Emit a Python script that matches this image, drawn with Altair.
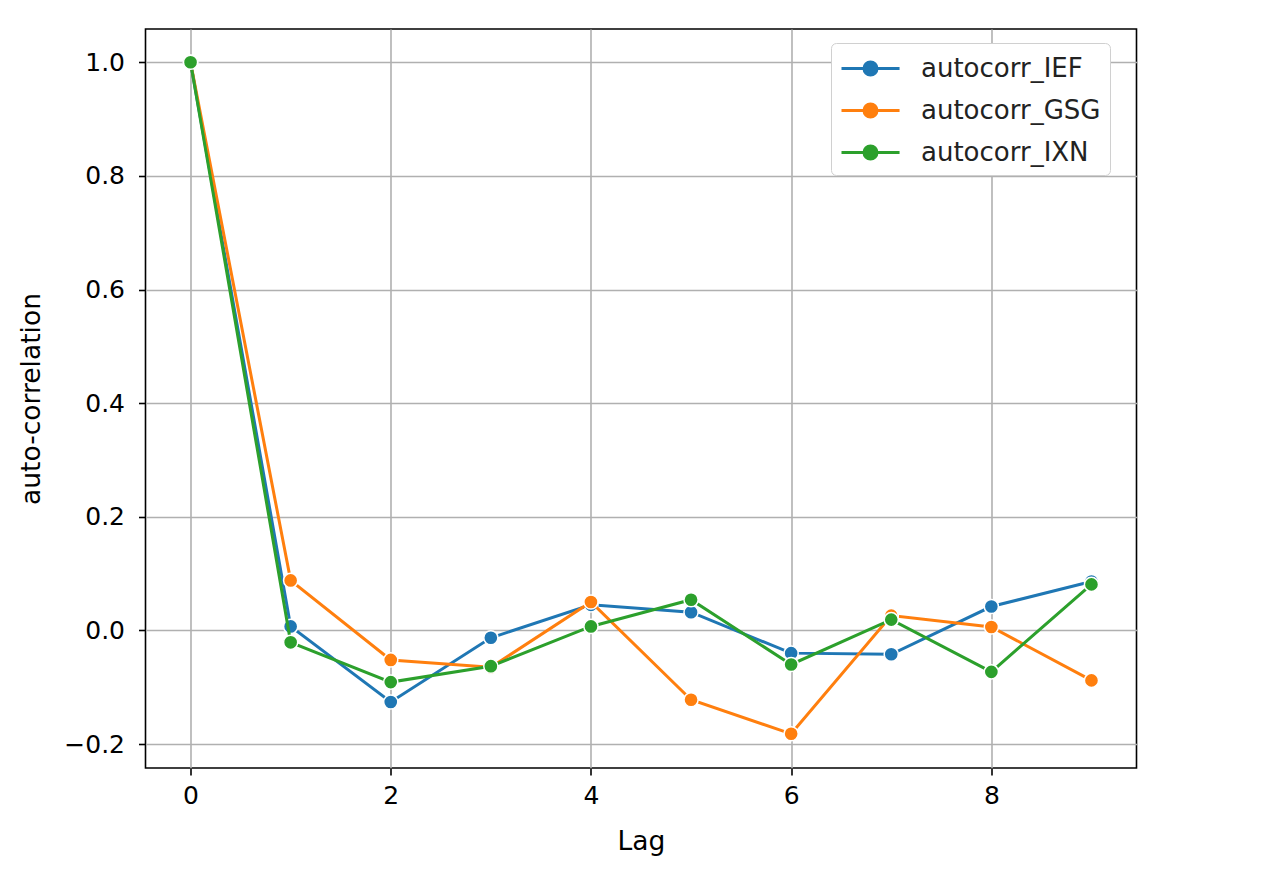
import altair as alt
import pandas as pd

lags = [0, 1, 2, 3, 4, 5, 6, 7, 8, 9]
series_names = ["autocorr_IEF", "autocorr_GSG", "autocorr_IXN"]
ief = [1.0, 0.007, -0.126, -0.013, 0.045, 0.032, -0.040, -0.042, 0.042, 0.086]
gsg = [1.0, 0.088, -0.052, -0.065, 0.050, -0.122, -0.182, 0.026, 0.006, -0.088]
ixn = [1.0, -0.021, -0.091, -0.063, 0.007, 0.054, -0.060, 0.019, -0.073, 0.081]
colors = ["#1f77b4", "#ff7f0e", "#2ca02c"]

rows = []
for name, vals in zip(series_names, [ief, gsg, ixn]):
    for lag, v in zip(lags, vals):
        rows.append({"Lag": lag, "value": v, "series": name})
df = pd.DataFrame(rows)

FONT = "DejaVu Sans"
x_enc = alt.X("Lag:Q", title="Lag",
              scale=alt.Scale(domain=[-0.45, 9.45], nice=False, zero=False),
              axis=alt.Axis(values=[0, 2, 4, 6, 8], format="d"))
y_enc = alt.Y("value:Q", title="auto-correlation",
              scale=alt.Scale(domain=[-0.2422, 1.0586], nice=False, zero=False),
              axis=alt.Axis(values=[-0.2, 0.0, 0.2, 0.4, 0.6, 0.8, 1.0], format=".1f"))

# legend symbol: line with a dot in its middle (unit = 15px)
legend_path = ("M-1,0L2.87,0M0.5,0A0.433,0.433,0,1,0,1.366,0"
               "A0.433,0.433,0,1,0,0.5,0Z")
color_enc = alt.Color("series:N",
                      scale=alt.Scale(domain=series_names, range=colors),
                      legend=alt.Legend(title=None, orient="none",
                                        legendX=685.5, legendY=14,
                                        symbolType=legend_path,
                                        symbolSize=900,
                                        symbolStrokeWidth=3,
                                        labelFont=FONT, labelFontSize=26,
                                        labelColor="#222222",
                                        labelLimit=0,
                                        labelOffset=48, rowPadding=12,
                                        padding=9,
                                        fillColor="white",
                                        strokeColor="#d0d0d0",
                                        cornerRadius=5,
                                        symbolOpacity=1))

layers = []
for name in series_names:
    base = alt.Chart(df).transform_filter(alt.datum.series == name)
    line = base.mark_line(strokeWidth=3).encode(x=x_enc, y=y_enc, color=color_enc)
    pts = base.mark_point(filled=True, size=200, stroke="white", strokeWidth=1.5,
                          opacity=1).encode(
        x=x_enc, y=y_enc, fill=alt.Fill("series:N",
                                        scale=alt.Scale(domain=series_names, range=colors),
                                        legend=None))
    layers += [line, pts]

chart = alt.layer(*layers).properties(
    width=991, height=739,
    autosize=alt.AutoSizeParams(type="none"),
    padding={"left": 137.5, "top": 21, "right": 100, "bottom": 100},
).configure_view(
    stroke="black", strokeWidth=1.6
).configure_axis(
    grid=True, gridColor="#b0b0b0", gridWidth=1.6,
    domain=False, tickColor="black", tickWidth=1.6, tickSize=7,
    labelFont=FONT, labelFontSize=25, labelColor="black",
    titleFont=FONT, titleFontSize=26.5, titleColor="black", titleFontWeight="normal",
).configure_axisX(titlePadding=20, labelPadding=8).configure_axisY(titlePadding=18, labelPadding=14)

chart.save("out.html", embed_options={"renderer": "svg", "actions": False})
